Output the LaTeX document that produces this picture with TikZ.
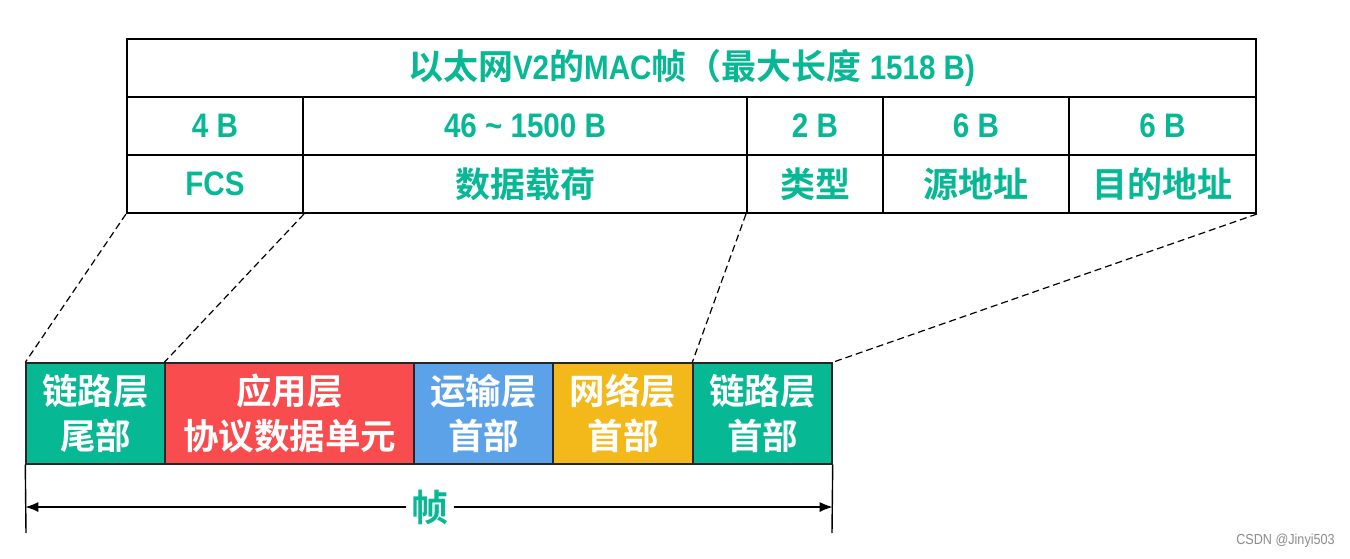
\documentclass[tikz,border=0pt]{standalone}
\usepackage{fontspec}
\setmainfont{Liberation Sans}[FakeStretch=0.87]
\newfontfamily\cjk{Noto Sans CJK SC}[BoldFont={Noto Sans CJK SC Bold}]
\usepackage{tikz}
\usetikzlibrary{arrows.meta}
\definecolor{macgreen}{HTML}{06B894}
\definecolor{apred}{HTML}{F94C4E}
\definecolor{tpblue}{HTML}{5CA2E8}
\definecolor{nwyellow}{HTML}{F3B81A}
\newcommand{\zhtext}[1]{{\cjk\fontsize{35}{35}\selectfont #1}}

\begin{document}
\begin{tikzpicture}[x=1pt, y=-1pt,
    cell/.style={draw=black, line width=2pt, inner sep=0pt, anchor=center,
      font=\bfseries\fontsize{34}{34}\selectfont, text=macgreen},
    layer/.style={draw=black!85, line width=1.4pt, inner sep=0pt, anchor=center,
      minimum height=101pt, align=center, text=white,
      font=\cjk\bfseries\fontsize{35.5}{45}\selectfont},
    guide/.style={dashed, line width=1.2pt, dash pattern=on 7pt off 4pt},
  ]
  \useasboundingbox[fill=white] (0,0) rectangle (1350,558);

  % MAC frame table
  \node[cell, minimum width=1129pt, minimum height=58pt,
    font=\bfseries\fontsize{34}{34}\selectfont] (title) at (691.5,68)
    {\zhtext{以太网}V2\zhtext{的}MAC\zhtext{帧（最大长度} 1518 B)};
  \foreach \name/\x/\w/\len/\field in {
      fcs/215/176/4 B/FCS,
      data/525/444/46 \char`~\ 1500 B/\zhtext{数据载荷},
      type/815/136/2 B/\zhtext{类型},
      src/976/186/6 B/\zhtext{源地址},
      dst/1162.5/187/6 B/\zhtext{目的地址}} {
    \node[cell, minimum width=\w pt, minimum height=58pt] (\name len) at (\x,126) {\len};
    \node[cell, minimum width=\w pt, minimum height=58pt] (\name) at (\x,184) {\field};
  }

  % encapsulated frame
  \node[layer, fill=macgreen, minimum width=139pt] (trail) at (95.5,413.5) {链路层\\尾部};
  \node[layer, fill=apred, minimum width=249pt] (apdu) at (289.5,413.5) {应用层\\协议数据单元};
  \node[layer, fill=tpblue, minimum width=139pt] (tphead) at (483.5,413.5) {运输层\\首部};
  \node[layer, fill=nwyellow, minimum width=140pt] (nwhead) at (623,413.5) {网络层\\首部};
  \node[layer, fill=macgreen, minimum width=139pt] (lkhead) at (762.5,413.5) {链路层\\首部};

  \draw[guide] (fcs.south west) -- (trail.north west);
  \draw[guide] (fcs.south east) -- (apdu.north west);
  \draw[guide] (type.south west) -- (lkhead.north west);
  \draw[guide] (dst.south east) -- (lkhead.north east);

  % frame length
  \coordinate (lbot) at (26,533);
  \coordinate (rbot) at (832,533);
  \draw[line width=1.4pt] (trail.south west) -- (lbot);
  \draw[line width=1.4pt] (lkhead.south east) -- (rbot);
  \node[text=macgreen, font=\cjk\bfseries\fontsize{37}{37}\selectfont, inner sep=5pt] (frm) at (430,507) {帧};
  \draw[line width=1.4pt, -{Latex[length=13pt, width=10pt]}] (frm.west) -- (trail.south west |- frm);
  \draw[line width=1.4pt, -{Latex[length=13pt, width=10pt]}] (frm.east) -- (lkhead.south east |- frm);

  \node[text=black!45, font=\fontsize{14.5}{14.5}\selectfont] (mark) at (1285.5,541) {CSDN @Jinyi503};
\end{tikzpicture}
\end{document}
